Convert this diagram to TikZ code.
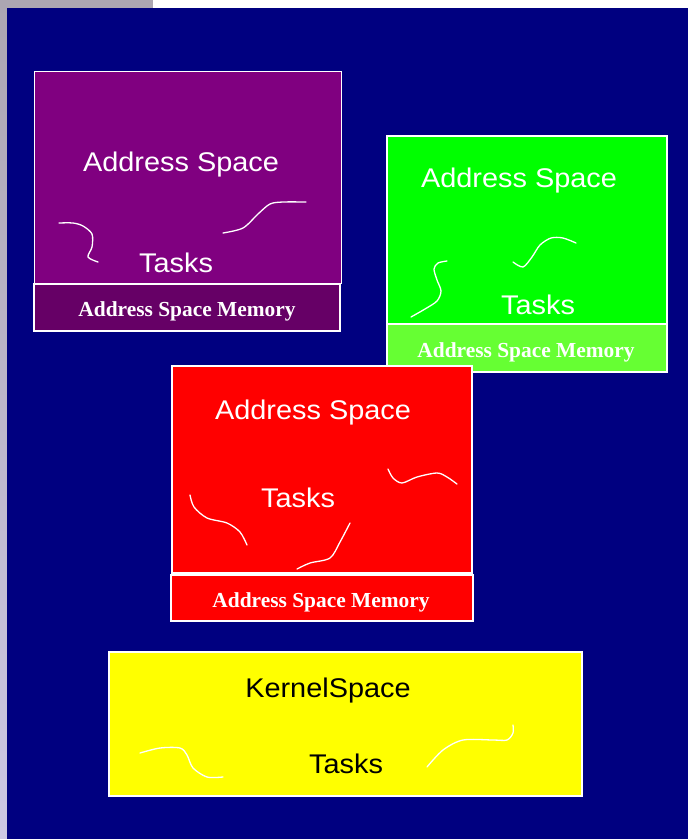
\documentclass[tikz,border=0pt]{standalone}
\usepackage{fontspec}
\newfontfamily\panelfont{Liberation Sans}
\newfontfamily\stripfont{Liberation Serif}
\definecolor{navy}{RGB}{0,0,128}
\definecolor{plum}{RGB}{128,0,128}
\definecolor{plumdark}{RGB}{102,0,102}
\definecolor{limeg}{RGB}{0,255,0}
\definecolor{limelight}{RGB}{102,255,51}
\definecolor{redbox}{RGB}{255,0,0}
\definecolor{yellowbox}{RGB}{255,255,0}
\definecolor{edgegray}{RGB}{172,166,178}
\definecolor{edgelav}{RGB}{205,200,228}
\tikzset{
  x=1pt, y=-1pt,
  panel/.style={draw=white, line width=1.6pt, inner sep=0pt, outer sep=0pt},
  striplabel/.style={anchor=base, inner sep=0pt, text=white, font=\stripfont\bfseries\fontsize{21.4}{21.4}\selectfont},
  title/.style={anchor=base, xscale=1.07, font=\panelfont\fontsize{27}{27}\selectfont, text=white, inner sep=0pt},
  squiggle/.style={draw=white, line width=1.3pt, line join=round, line cap=round}
}
\begin{document}
\begin{tikzpicture}
\useasboundingbox (0,0) rectangle (688,839);
% page background
\fill[white] (0,0) rectangle (688,839);
\fill[edgegray] (0,0) rectangle (153,8);
\shade[top color=edgegray, bottom color=edgelav] (0,0) rectangle (7,839);
\fill[navy] (7,8) rectangle (688,839);

% purple address space
\node[panel, fill=plum, minimum width=307pt, minimum height=212pt] (pA) at (188,177.5) {};
\node[panel, fill=plumdark, minimum width=306pt, minimum height=47pt] (pM) at (187,307.5) {};
\node[striplabel] (pL) at (187,316) {Address Space Memory};
\node[title] (pT) at (181,171) {Address Space};
\node[title] (pK) at (176,272) {Tasks};
\draw[squiggle] plot[smooth, tension=0.5] coordinates {(59,223) (73,223) (83,226) (92,234) (92,247) (88,257) (98,262)};
\draw[squiggle] plot[smooth, tension=0.5] coordinates {(223,233) (243,228) (258,214) (270,204) (283,202) (306,202)};

% green address space
\node[panel, fill=limeg, minimum width=280pt, minimum height=207pt] (gA) at (527,239.5) {};
\node[panel, fill=limelight, minimum width=280pt, minimum height=48pt] (gM) at (527,348) {};
\node[striplabel] (gL) at (526,357) {Address Space Memory};
\node[title] (gT) at (519,187) {Address Space};
\node[title] (gK) at (538,314) {Tasks};
\draw[squiggle] plot[smooth, tension=0.5] coordinates {(411,317) (425,309) (437,301) (441,291) (437,280) (434,269) (438,263) (447,261)};
\draw[squiggle] plot[smooth, tension=0.5] coordinates {(513,262) (523,267) (532,257) (540,245) (551,238) (563,238) (576,243)};

% red address space
\node[panel, fill=redbox, minimum width=300pt, minimum height=207pt] (rA) at (322,469.5) {};
\node[panel, fill=redbox, minimum width=302pt, minimum height=46pt] (rM) at (322,598) {};
\node[striplabel] (rL) at (321,607) {Address Space Memory};
\node[title] (rT) at (313,419) {Address Space};
\node[title] (rK) at (298,507) {Tasks};
\draw[squiggle] plot[smooth, tension=0.5] coordinates {(190,495) (194,507) (207,518) (227,523) (240,532) (247,545)};
\draw[squiggle] plot[smooth, tension=0.5] coordinates {(297,569) (310,563) (330,558) (340,542) (350,523)};
\draw[squiggle] plot[smooth, tension=0.5] coordinates {(388,469) (393,478) (402,483) (417,477) (437,473) (447,477) (457,484)};

% kernel space
\node[panel, fill=yellowbox, minimum width=473pt, minimum height=144pt] (kA) at (345.5,724) {};
\node[title, text=black] (kT) at (328,697) {KernelSpace};
\node[title, text=black] (kK) at (346,773) {Tasks};
\draw[squiggle] plot[smooth, tension=0.5] coordinates {(140,753) (160,748) (180,748) (187,755) (193,768) (207,777) (223,777)};
\draw[squiggle] plot[smooth, tension=0.5] coordinates {(427,767) (443,750) (463,740) (493,740) (507,740) (513,733) (513,725)};
\end{tikzpicture}
\end{document}
